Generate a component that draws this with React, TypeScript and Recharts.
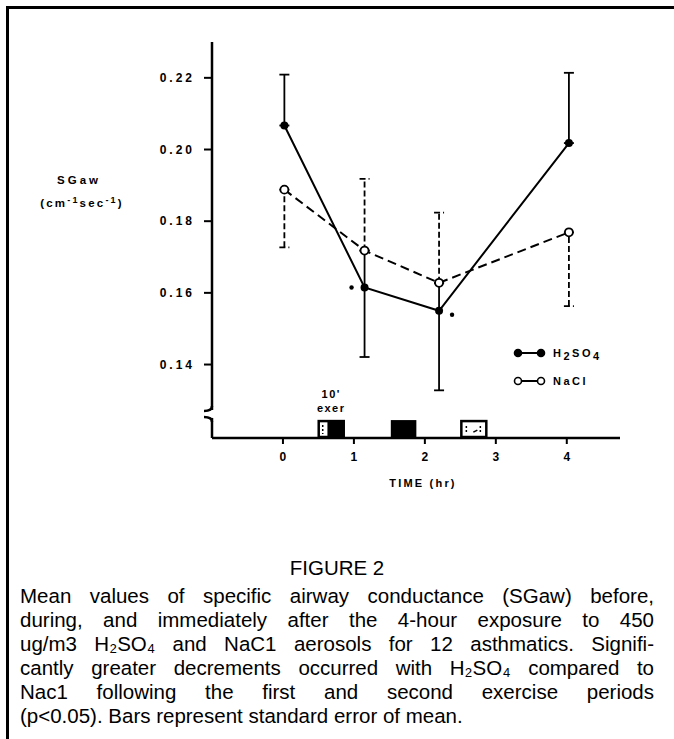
import {
  ComposedChart,
  ErrorBar,
  Label,
  Legend,
  Line,
  ReferenceArea,
  ReferenceDot,
  ReferenceLine,
  XAxis,
  YAxis,
} from "recharts";

// hours after start of exposure
const TIMES = [0.02, 1.15, 2.2, 4.03];
const H2SO4_MEAN = [0.2067, 0.1615, 0.155, 0.2018];
const NACL_MEAN = [0.1888, 0.1718, 0.1628, 0.1769];
// standard error, drawn one-sided: [below, above]
const H2SO4_SE = [[0, 0.0142], [0.0194, 0], [0.0222, 0], [0, 0.0196]];
const NACL_SE = [[0.0161, 0], [0, 0.02], [0, 0.0196], [0.0206, 0]];
// the bar runs through both means at these times
const BARS_JOINED = [false, true, true, false];
// p<0.05 marker: -1 left of the point, 1 right, 0 none
const SIGNIFICANT = [0, -1, 1, 0];

const X_TICKS = [0, 1, 2, 3, 4];
const Y_TICKS = [0.14, 0.16, 0.18, 0.2, 0.22];
const X_DOMAIN = [-1, 4.75];
const Y_DOMAIN = [0.1195, 0.23];
const BREAK_TOP = 0.1273;
const BREAK_BOTTOM = 0.1251;

// exercise periods
const EXER_START = [0.49, 1.52, 2.5];
const EXER_END = [0.87, 1.88, 2.88];
const EXER_KIND = ["half", "solid", "open"];
const EXER_TOP = 0.1245;

const CAPTION_LINES = [
  "Mean values of specific airway conductance (SGaw) before,",
  "during, and immediately after the 4-hour exposure to 450",
  "ug/m3 H\u2082SO\u2084 and NaC1 aerosols for 12 asthmatics. Signifi-",
  "cantly greater decrements occurred with H\u2082SO\u2084 compared to",
  "Nac1 following the first and second exercise periods",
  "(p<0.05). Bars represent standard error of mean.",
];

const data = TIMES.map((t, i) => ({
  t,
  h2so4: H2SO4_MEAN[i],
  nacl: NACL_MEAN[i],
  h2Err: BARS_JOINED[i]
    ? [H2SO4_SE[i][0], NACL_MEAN[i] - H2SO4_MEAN[i]]
    : H2SO4_SE[i],
  naErr: NACL_SE[i],
}));

const FONT = "'Liberation Sans', Arial, sans-serif";
const chartText = {
  fontFamily: FONT,
  fontWeight: 700,
  fill: "#000",
};

function H2Dot(props: any) {
  const { cx, cy, index } = props;
  const side = SIGNIFICANT[index];
  return (
    <g key={`h2-${index}`}>
      <circle cx={cx} cy={cy} r={4} fill="#000" />
      {side !== 0 ? (
        <circle
          cx={cx + side * 13}
          cy={cy + (side > 0 ? 4 : 0)}
          r={2.2}
          fill="#000"
        />
      ) : null}
    </g>
  );
}

function NaDot(props: any) {
  const { cx, cy, index } = props;
  return (
    <circle
      key={`na-${index}`}
      cx={cx}
      cy={cy}
      r={4}
      fill="#fff"
      stroke="#000"
      strokeWidth={1.8}
    />
  );
}

const renderYTick = (props: any) => {
  const { x, y, payload } = props;
  return (
    <text
      key={`yt-${payload.value}`}
      x={x}
      y={y}
      dy={4}
      textAnchor="end"
      fontSize={12}
      letterSpacing={3}
      {...chartText}
    >
      {Number(payload.value).toFixed(2)}
    </text>
  );
};

const renderXTick = (props: any) => {
  const { x, y, payload } = props;
  return (
    <text
      key={`xt-${payload.value}`}
      x={x}
      y={y}
      dy={9}
      textAnchor="middle"
      fontSize={12}
      {...chartText}
    >
      {String(payload.value)}
    </text>
  );
};

function renderExer(props: any, i: number) {
  const { x, y, width, height } = props;
  const kind = EXER_KIND[i];
  return (
    <g>
      {kind === "solid" ? (
        <rect x={x} y={y} width={width} height={height} fill="#000" />
      ) : (
        <rect
          x={x + 1}
          y={y + 1}
          width={width - 2}
          height={height - 2}
          fill="#fff"
          stroke="#000"
          strokeWidth={2.5}
        />
      )}
      {kind === "half" ? (
        <>
          <rect
            x={x + width * 0.36}
            y={y}
            width={width * 0.64}
            height={height}
            fill="#000"
          />
          <line x1={x + 5} y1={y + 5} x2={x + 5} y2={y + 14} stroke="#000" strokeWidth={1.5} strokeDasharray="2 2" />
          <text x={x + width / 2} y={y - 22} textAnchor="middle" fontSize={11} letterSpacing={1.5} {...chartText}>
            10'
          </text>
          <text x={x + width / 2} y={y - 8} textAnchor="middle" fontSize={11} letterSpacing={1.5} {...chartText}>
            exer
          </text>
        </>
      ) : null}
      {kind === "open" ? (
        <>
          <line x1={x + 6} y1={y + 6} x2={x + 6} y2={y + 14} stroke="#000" strokeWidth={1.5} strokeDasharray="2 2" />
          <line x1={x + 13} y1={y + 12} x2={x + 17} y2={y + 10} stroke="#000" strokeWidth={1.5} />
          <line x1={x + 20} y1={y + 6} x2={x + 20} y2={y + 13} stroke="#000" strokeWidth={1.5} strokeDasharray="2 2" />
        </>
      ) : null}
    </g>
  );
}

function BreakMark(props: any) {
  const { cx, cy, upper } = props;
  const d = upper
    ? `M ${cx} ${cy - 4} Q ${cx} ${cy + 1} ${cx - 8} ${cy + 1}`
    : `M ${cx} ${cy + 4} Q ${cx} ${cy - 1} ${cx - 8} ${cy - 1}`;
  return <path d={d} fill="none" stroke="#000" strokeWidth={2.5} />;
}

function FormulaText({ x, y, name }: { x: number; y: number; name: string }) {
  if (name === "H2SO4") {
    return (
      <text x={x} y={y} fontSize={11} letterSpacing={2.5} {...chartText}>
        H<tspan dy={3}>2</tspan>
        <tspan dy={-3}>SO</tspan>
        <tspan dy={3}>4</tspan>
      </text>
    );
  }
  return (
    <text x={x} y={y} fontSize={11} letterSpacing={2.5} {...chartText}>
      {name}
    </text>
  );
}

function LegendContent() {
  const rows = [
    { name: "H2SO4", open: false },
    { name: "NaCl", open: true },
  ];
  return (
    <svg width={120} height={50} style={{ display: "block" }}>
      {rows.map((row, i) => {
        const cy = 10 + i * 28;
        return (
          <g key={row.name}>
            <line
              x1={15}
              x2={38}
              y1={cy}
              y2={cy}
              stroke="#000"
              strokeWidth={2}
            />
            {[15, 38].map((cx) => (
              <circle
                key={cx}
                cx={cx}
                cy={cy}
                r={3.5}
                fill={row.open ? "#fff" : "#000"}
                stroke="#000"
                strokeWidth={1.6}
              />
            ))}
            <FormulaText x={50} y={cy + 4} name={row.name} />
          </g>
        );
      })}
    </svg>
  );
}

function YLabel(props: any) {
  const { viewBox } = props;
  const x = viewBox.x - 73;
  return (
    <g>
      <text x={x} y={184} textAnchor="middle" fontSize={11.5} letterSpacing={3} {...chartText}>
        SGaw
      </text>
      <text x={x + 3} y={207} textAnchor="middle" fontSize={11.5} letterSpacing={2.2} {...chartText}>
        (cm<tspan dy={-4} fontSize={9}>-1</tspan>
        <tspan dy={4}>sec</tspan>
        <tspan dy={-4} fontSize={9}>-1</tspan>
        <tspan dy={4}>)</tspan>
      </text>
    </g>
  );
}

function XLabel(props: any) {
  const { viewBox } = props;
  return (
    <text
      x={viewBox.x + viewBox.width / 2 + 7}
      y={viewBox.y + 49}
      textAnchor="middle"
      fontSize={11}
      letterSpacing={2.2}
      {...chartText}
    >
      TIME (hr)
    </text>
  );
}

function SGawChart() {
  return (
    <ComposedChart
      width={674}
      height={500}
      data={data}
      margin={{ top: 42, right: 54, bottom: 7, left: 152 }}
    >
      <XAxis
        type="number"
        dataKey="t"
        domain={X_DOMAIN}
        ticks={X_TICKS}
        interval={0}
        allowDataOverflow
        axisLine={{ stroke: "#000", strokeWidth: 2.5 }}
        tickLine={{ stroke: "#000", strokeWidth: 2 }}
        tickSize={6}
        tickMargin={8}
        height={55}
        tick={renderXTick}
      >
        <Label content={<XLabel />} />
      </XAxis>
      <YAxis
        type="number"
        domain={Y_DOMAIN}
        ticks={Y_TICKS}
        interval={0}
        allowDataOverflow
        width={60}
        axisLine={false}
        tickLine={{ stroke: "#000", strokeWidth: 2 }}
        tickSize={8}
        tickMargin={9}
        tick={renderYTick}
      >
        <Label content={<YLabel />} />
      </YAxis>

      <ReferenceLine
        segment={[
          { x: X_DOMAIN[0], y: Y_DOMAIN[1] },
          { x: X_DOMAIN[0], y: BREAK_TOP },
        ]}
        stroke="#000"
        strokeWidth={2.5}
      />
      <ReferenceLine
        segment={[
          { x: X_DOMAIN[0], y: BREAK_BOTTOM },
          { x: X_DOMAIN[0], y: Y_DOMAIN[0] },
        ]}
        stroke="#000"
        strokeWidth={2.5}
      />
      <ReferenceDot
        x={X_DOMAIN[0]}
        y={BREAK_TOP}
        shape={(p: any) => <BreakMark {...p} upper />}
      />
      <ReferenceDot
        x={X_DOMAIN[0]}
        y={BREAK_BOTTOM}
        shape={(p: any) => <BreakMark {...p} upper={false} />}
      />

      {EXER_START.map((start, i) => (
        <ReferenceArea
          key={start}
          x1={start}
          x2={EXER_END[i]}
          y1={Y_DOMAIN[0]}
          y2={EXER_TOP}
          shape={(p: any) => renderExer(p, i)}
        />
      ))}

      <Line
        dataKey="h2so4"
        name="H2SO4"
        stroke="#000"
        strokeWidth={2}
        dot={H2Dot}
        activeDot={false}
        isAnimationActive={false}
      >
        <ErrorBar dataKey="h2Err" width={5} stroke="#000" strokeWidth={1.8} />
      </Line>
      <Line
        dataKey="nacl"
        name="NaCl"
        stroke="#000"
        strokeWidth={2}
        strokeDasharray="9 5"
        dot={NaDot}
        activeDot={false}
        isAnimationActive={false}
      >
        <ErrorBar
          dataKey="naErr"
          width={5}
          stroke="#000"
          strokeWidth={1.8}
          strokeDasharray="6 3"
        />
      </Line>

      <Legend
        layout="vertical"
        align="center"
        verticalAlign="middle"
        content={<LegendContent />}
        wrapperStyle={{ left: 503, top: 343, width: 120, height: 50 }}
      />
    </ComposedChart>
  );
}

export default function App() {
  return (
    <div
      style={{
        position: "relative",
        width: 674,
        height: 739,
        background: "#fff",
        overflow: "hidden",
      }}
    >
      <style>{"body{margin:0}"}</style>
      <div
        style={{
          position: "absolute",
          left: 6,
          top: 6,
          width: 3,
          height: 733,
          background: "#000",
        }}
      />
      <div
        style={{
          position: "absolute",
          left: 6,
          top: 6,
          width: 668,
          height: 2.5,
          background: "#000",
        }}
      />
      <div style={{ position: "absolute", left: 0, top: 0 }}>
        <SGawChart />
      </div>
      <div
        style={{
          position: "absolute",
          left: 0,
          width: 674,
          top: 555,
          textAlign: "center",
          fontFamily: "'Liberation Sans', Arial, sans-serif",
          fontSize: 20.5,
          lineHeight: "26px",
        }}
      >
        FIGURE 2
      </div>
      <div
        style={{
          position: "absolute",
          left: 20,
          width: 634,
          top: 584,
          fontFamily: "'Liberation Sans', Arial, sans-serif",
          fontSize: 20.5,
          lineHeight: "24px",
          color: "#000",
        }}
      >
        {CAPTION_LINES.map((line, i) => (
          <div
            key={i}
            style={{
              textAlign: "justify",
              textAlignLast: i < CAPTION_LINES.length - 1 ? "justify" : "left",
              whiteSpace: "nowrap",
            }}
          >
            {line}
          </div>
        ))}
      </div>
    </div>
  );
}
